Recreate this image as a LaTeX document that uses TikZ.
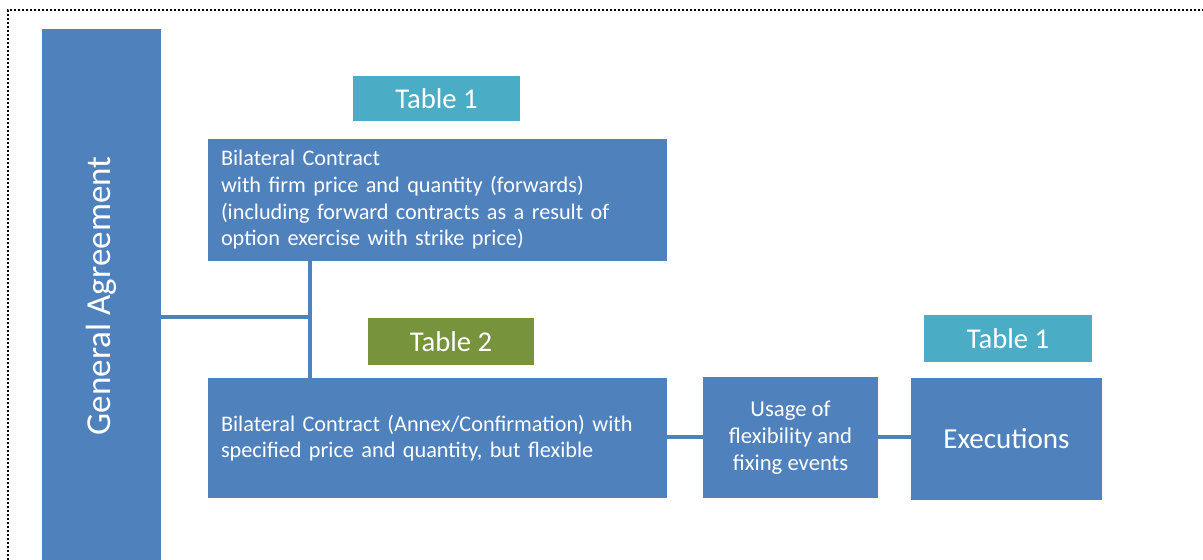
\documentclass[tikz,border=0pt]{standalone}
\usepackage{fontspec}
\setmainfont{Carlito}
\definecolor{boxblue}{HTML}{4F81BD}
\definecolor{aqua}{HTML}{4BACC6}
\definecolor{olive}{HTML}{77933C}
\begin{document}
\begin{tikzpicture}[x=0.75pt,y=-0.75pt,
  bluebox/.style={fill=boxblue,draw=none,text=white,inner sep=0pt},
  tagbox/.style={draw=none,text=white,inner sep=0pt,font=\fontsize{21.5}{25}\selectfont},
  conn/.style={draw=boxblue,line width=2.6pt},
  frame/.style={draw=black,line width=1.1pt,dash pattern=on 1.5pt off 1.5pt}]
\clip (0,0) rectangle (1203,560);
\fill[white] (0,0) rectangle (1203,560);
\draw[frame] (8,600) -- (8,10) -- (1250,10);

\node[bluebox,minimum width=119*0.75pt,minimum height=534*0.75pt] (ga) at (101.5,296)
  {\rotatebox{90}{\fontsize{26.3}{30}\selectfont General Agreement}};

\node[tagbox,fill=aqua,minimum width=167*0.75pt,minimum height=45*0.75pt] (t1a) at (436.5,98.5) {Table 1};

\node[bluebox,minimum height=122*0.75pt,text width=433*0.75pt,inner xsep=9.75pt,align=left,
  font=\fontsize{16.7}{20}\selectfont] (bc1) at (437.5,200)
  {Bilateral Contract\\with firm price and quantity (forwards)\\(including forward contracts as a result of\\option exercise with strike price)};

\node[tagbox,fill=olive,minimum width=166*0.75pt,minimum height=47*0.75pt] (t2) at (451,341.5) {Table 2};

\node[bluebox,minimum height=120*0.75pt,text width=433*0.75pt,inner xsep=9.75pt,align=left,
  font=\fontsize{16.7}{20}\selectfont] (bc2) at (437.5,438)
  {Bilateral Contract (Annex/Confirmation) with\\specified price and quantity, but flexible};

\node[bluebox,minimum width=175*0.75pt,minimum height=121*0.75pt,align=center,
  font=\fontsize{17}{20.3}\selectfont] (use) at (790.5,437.5)
  {Usage of\\flexibility and\\fixing events};

\node[bluebox,minimum width=191*0.75pt,minimum height=122*0.75pt,
  font=\fontsize{21.8}{25}\selectfont] (exe) at (1006.5,439) {Executions};

\node[tagbox,fill=aqua,minimum width=168*0.75pt,minimum height=47*0.75pt] (t1b) at (1008,338.5) {Table 1};

\coordinate (j) at (310,317);
\draw[conn] (ga.east |- j) -- (j);
\draw[conn] (bc1.south -| j) -- (bc2.north -| j);
\draw[conn] (bc2.east |- 0,437) -- (use.west |- 0,437);
\draw[conn] (use.east |- 0,437) -- (exe.west |- 0,437);
\end{tikzpicture}
\end{document}
